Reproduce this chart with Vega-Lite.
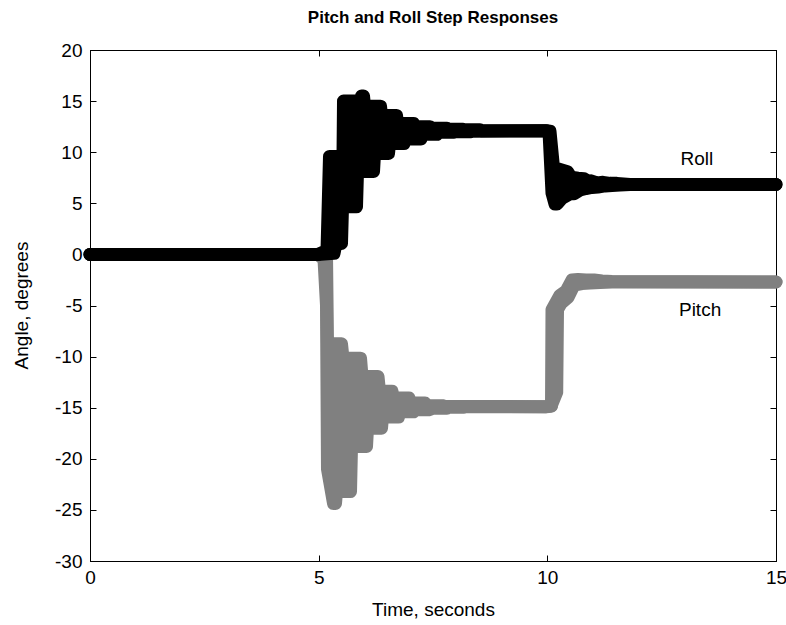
{
  "$schema": "https://vega.github.io/schema/vega-lite/v6.json",
  "width": 686,
  "height": 511,
  "autosize": {"type": "none"},
  "padding": {"left": 90, "top": 50, "right": 10, "bottom": 64},
  "background": "white",
  "title": {"text": "Pitch and Roll Step Responses", "font": "Liberation Sans", "fontSize": 17, "fontWeight": "bold", "color": "black", "anchor": "middle", "offset": 14},
  "config": {
    "view": {"stroke": "black", "strokeWidth": 1},
    "axis": {
      "grid": false,
      "zindex": 1,
      "domainColor": "black",
      "tickColor": "black",
      "tickSize": -6,
      "labelColor": "black",
      "labelFont": "Liberation Sans",
      "labelFontSize": 19,
      "titleColor": "black",
      "titleFont": "Liberation Sans",
      "titleFontSize": 19,
      "titleFontWeight": "normal",
      "labelFlush": false,
      "labelOverlap": false,
      "labelExpr": "datum.value + ''"
    }
  },
  "data": {
    "values": [
      {"s": "Pitch", "e": "lo", "t": 0, "v": 0},
      {"s": "Pitch", "e": "lo", "t": 4.9855, "v": 0},
      {"s": "Pitch", "e": "lo", "t": 5.1166, "v": -0.5},
      {"s": "Pitch", "e": "lo", "t": 5.1713, "v": -5},
      {"s": "Pitch", "e": "lo", "t": 5.1931, "v": -21},
      {"s": "Pitch", "e": "lo", "t": 5.3244, "v": -24.37},
      {"s": "Pitch", "e": "lo", "t": 5.3681, "v": -24.37},
      {"s": "Pitch", "e": "lo", "t": 5.39, "v": -23.2},
      {"s": "Pitch", "e": "lo", "t": 5.6961, "v": -23.2},
      {"s": "Pitch", "e": "lo", "t": 5.718, "v": -18.8},
      {"s": "Pitch", "e": "lo", "t": 6.046, "v": -18.8},
      {"s": "Pitch", "e": "lo", "t": 6.0678, "v": -17.0},
      {"s": "Pitch", "e": "lo", "t": 6.374, "v": -17.0},
      {"s": "Pitch", "e": "lo", "t": 6.3958, "v": -15.9},
      {"s": "Pitch", "e": "lo", "t": 6.7457, "v": -15.9},
      {"s": "Pitch", "e": "lo", "t": 6.7675, "v": -15.4},
      {"s": "Pitch", "e": "lo", "t": 7.0737, "v": -15.4},
      {"s": "Pitch", "e": "lo", "t": 7.0955, "v": -15.2},
      {"s": "Pitch", "e": "lo", "t": 7.4344, "v": -15.2},
      {"s": "Pitch", "e": "lo", "t": 7.4563, "v": -15.05},
      {"s": "Pitch", "e": "lo", "t": 7.8062, "v": -15.05},
      {"s": "Pitch", "e": "lo", "t": 7.828, "v": -14.95},
      {"s": "Pitch", "e": "lo", "t": 8.1779, "v": -14.95},
      {"s": "Pitch", "e": "lo", "t": 8.1997, "v": -14.9},
      {"s": "Pitch", "e": "lo", "t": 9.9709, "v": -14.9},
      {"s": "Pitch", "e": "lo", "t": 10.0802, "v": -14.85},
      {"s": "Pitch", "e": "lo", "t": 10.2049, "v": -13.5},
      {"s": "Pitch", "e": "lo", "t": 10.2224, "v": -5.4},
      {"s": "Pitch", "e": "lo", "t": 10.299, "v": -4.8},
      {"s": "Pitch", "e": "lo", "t": 10.452, "v": -4.2},
      {"s": "Pitch", "e": "lo", "t": 10.5832, "v": -3.0},
      {"s": "Pitch", "e": "lo", "t": 10.7581, "v": -2.85},
      {"s": "Pitch", "e": "lo", "t": 10.933, "v": -2.8},
      {"s": "Pitch", "e": "lo", "t": 11.1517, "v": -2.75},
      {"s": "Pitch", "e": "lo", "t": 11.4141, "v": -2.7},
      {"s": "Pitch", "e": "lo", "t": 15, "v": -2.7},
      {"s": "Pitch", "e": "hi", "t": 0, "v": 0},
      {"s": "Pitch", "e": "hi", "t": 5.1713, "v": 0},
      {"s": "Pitch", "e": "hi", "t": 5.1931, "v": -8.75},
      {"s": "Pitch", "e": "hi", "t": 5.4993, "v": -8.75},
      {"s": "Pitch", "e": "hi", "t": 5.5321, "v": -10.15},
      {"s": "Pitch", "e": "hi", "t": 5.9148, "v": -10.15},
      {"s": "Pitch", "e": "hi", "t": 5.9476, "v": -11.95},
      {"s": "Pitch", "e": "hi", "t": 6.2974, "v": -11.95},
      {"s": "Pitch", "e": "hi", "t": 6.3302, "v": -13.4},
      {"s": "Pitch", "e": "hi", "t": 6.6036, "v": -13.4},
      {"s": "Pitch", "e": "hi", "t": 6.6363, "v": -14.05},
      {"s": "Pitch", "e": "hi", "t": 6.9753, "v": -14.05},
      {"s": "Pitch", "e": "hi", "t": 7.0081, "v": -14.55},
      {"s": "Pitch", "e": "hi", "t": 7.3251, "v": -14.55},
      {"s": "Pitch", "e": "hi", "t": 7.3688, "v": -14.8},
      {"s": "Pitch", "e": "hi", "t": 7.6968, "v": -14.8},
      {"s": "Pitch", "e": "hi", "t": 7.7406, "v": -14.85},
      {"s": "Pitch", "e": "hi", "t": 9.9709, "v": -14.9},
      {"s": "Pitch", "e": "hi", "t": 10.0912, "v": -14.8},
      {"s": "Pitch", "e": "hi", "t": 10.1021, "v": -5.4},
      {"s": "Pitch", "e": "hi", "t": 10.2771, "v": -4.0},
      {"s": "Pitch", "e": "hi", "t": 10.4082, "v": -3.6},
      {"s": "Pitch", "e": "hi", "t": 10.5395, "v": -2.5},
      {"s": "Pitch", "e": "hi", "t": 10.6706, "v": -2.45},
      {"s": "Pitch", "e": "hi", "t": 10.8455, "v": -2.5},
      {"s": "Pitch", "e": "hi", "t": 11.0205, "v": -2.5},
      {"s": "Pitch", "e": "hi", "t": 11.1954, "v": -2.6},
      {"s": "Pitch", "e": "hi", "t": 11.4141, "v": -2.65},
      {"s": "Pitch", "e": "hi", "t": 15, "v": -2.7},
      {"s": "Roll", "e": "hi", "t": 0, "v": 0},
      {"s": "Roll", "e": "hi", "t": 4.9855, "v": 0},
      {"s": "Roll", "e": "hi", "t": 5.1822, "v": 0.4},
      {"s": "Roll", "e": "hi", "t": 5.2369, "v": 9.58},
      {"s": "Roll", "e": "hi", "t": 5.5321, "v": 9.58},
      {"s": "Roll", "e": "hi", "t": 5.5431, "v": 15.0},
      {"s": "Roll", "e": "hi", "t": 5.9257, "v": 15.0},
      {"s": "Roll", "e": "hi", "t": 5.9366, "v": 15.5},
      {"s": "Roll", "e": "hi", "t": 5.9804, "v": 15.5},
      {"s": "Roll", "e": "hi", "t": 6.0022, "v": 14.5},
      {"s": "Roll", "e": "hi", "t": 6.3521, "v": 14.5},
      {"s": "Roll", "e": "hi", "t": 6.374, "v": 13.6},
      {"s": "Roll", "e": "hi", "t": 6.7019, "v": 13.6},
      {"s": "Roll", "e": "hi", "t": 6.7238, "v": 12.8},
      {"s": "Roll", "e": "hi", "t": 7.0737, "v": 12.8},
      {"s": "Roll", "e": "hi", "t": 7.0955, "v": 12.5},
      {"s": "Roll", "e": "hi", "t": 7.4344, "v": 12.5},
      {"s": "Roll", "e": "hi", "t": 7.4563, "v": 12.35},
      {"s": "Roll", "e": "hi", "t": 7.8062, "v": 12.35},
      {"s": "Roll", "e": "hi", "t": 7.828, "v": 12.25},
      {"s": "Roll", "e": "hi", "t": 8.156, "v": 12.25},
      {"s": "Roll", "e": "hi", "t": 8.1779, "v": 12.2},
      {"s": "Roll", "e": "hi", "t": 8.5277, "v": 12.2},
      {"s": "Roll", "e": "hi", "t": 8.5496, "v": 12.1},
      {"s": "Roll", "e": "hi", "t": 9.9709, "v": 12.1},
      {"s": "Roll", "e": "hi", "t": 10.0584, "v": 12.05},
      {"s": "Roll", "e": "hi", "t": 10.1349, "v": 8.5},
      {"s": "Roll", "e": "hi", "t": 10.441, "v": 8.1},
      {"s": "Roll", "e": "hi", "t": 10.5176, "v": 7.55},
      {"s": "Roll", "e": "hi", "t": 10.6706, "v": 7.45},
      {"s": "Roll", "e": "hi", "t": 10.8018, "v": 7.4},
      {"s": "Roll", "e": "hi", "t": 10.8892, "v": 7.15},
      {"s": "Roll", "e": "hi", "t": 10.9549, "v": 7.2},
      {"s": "Roll", "e": "hi", "t": 11.0861, "v": 7.0},
      {"s": "Roll", "e": "hi", "t": 11.2172, "v": 7.05},
      {"s": "Roll", "e": "hi", "t": 11.3703, "v": 6.95},
      {"s": "Roll", "e": "hi", "t": 11.5234, "v": 6.95},
      {"s": "Roll", "e": "hi", "t": 11.8077, "v": 6.85},
      {"s": "Roll", "e": "hi", "t": 15, "v": 6.85},
      {"s": "Roll", "e": "lo", "t": 0, "v": 0},
      {"s": "Roll", "e": "lo", "t": 4.9855, "v": 0},
      {"s": "Roll", "e": "lo", "t": 5.3353, "v": 0.1},
      {"s": "Roll", "e": "lo", "t": 5.379, "v": 1.07},
      {"s": "Roll", "e": "lo", "t": 5.4993, "v": 1.07},
      {"s": "Roll", "e": "lo", "t": 5.5212, "v": 4.66},
      {"s": "Roll", "e": "lo", "t": 5.8273, "v": 4.66},
      {"s": "Roll", "e": "lo", "t": 5.8492, "v": 8.1},
      {"s": "Roll", "e": "lo", "t": 6.199, "v": 8.1},
      {"s": "Roll", "e": "lo", "t": 6.2209, "v": 9.87},
      {"s": "Roll", "e": "lo", "t": 6.527, "v": 9.87},
      {"s": "Roll", "e": "lo", "t": 6.5489, "v": 10.85},
      {"s": "Roll", "e": "lo", "t": 6.8659, "v": 10.85},
      {"s": "Roll", "e": "lo", "t": 6.8878, "v": 11.3},
      {"s": "Roll", "e": "lo", "t": 7.2377, "v": 11.3},
      {"s": "Roll", "e": "lo", "t": 7.2595, "v": 11.75},
      {"s": "Roll", "e": "lo", "t": 7.5875, "v": 11.75},
      {"s": "Roll", "e": "lo", "t": 7.6094, "v": 11.95},
      {"s": "Roll", "e": "lo", "t": 7.9592, "v": 11.95},
      {"s": "Roll", "e": "lo", "t": 7.9811, "v": 12.0},
      {"s": "Roll", "e": "lo", "t": 8.331, "v": 12.0},
      {"s": "Roll", "e": "lo", "t": 8.3528, "v": 12.05},
      {"s": "Roll", "e": "lo", "t": 9.9709, "v": 12.1},
      {"s": "Roll", "e": "lo", "t": 10.0365, "v": 12.0},
      {"s": "Roll", "e": "lo", "t": 10.1021, "v": 6.0},
      {"s": "Roll", "e": "lo", "t": 10.1677, "v": 4.93},
      {"s": "Roll", "e": "lo", "t": 10.2115, "v": 4.93},
      {"s": "Roll", "e": "lo", "t": 10.3207, "v": 5.5},
      {"s": "Roll", "e": "lo", "t": 10.4957, "v": 5.93},
      {"s": "Roll", "e": "lo", "t": 10.5832, "v": 5.93},
      {"s": "Roll", "e": "lo", "t": 10.7143, "v": 6.3},
      {"s": "Roll", "e": "lo", "t": 10.8455, "v": 6.45},
      {"s": "Roll", "e": "lo", "t": 10.9767, "v": 6.55},
      {"s": "Roll", "e": "lo", "t": 11.1079, "v": 6.6},
      {"s": "Roll", "e": "lo", "t": 11.261, "v": 6.7},
      {"s": "Roll", "e": "lo", "t": 11.4141, "v": 6.75},
      {"s": "Roll", "e": "lo", "t": 11.589, "v": 6.8},
      {"s": "Roll", "e": "lo", "t": 11.8077, "v": 6.85},
      {"s": "Roll", "e": "lo", "t": 15, "v": 6.85}
    ]
  },
  "layer": [
    {
      "transform": [{"filter": "datum.s === 'Pitch' && datum.e === 'lo'"}],
      "mark": {"type": "area", "color": "#808080", "opacity": 1},
      "encoding": {
        "x": {"field": "t", "type": "quantitative", "scale": {"domain": [0, 15], "nice": false},
              "axis": {"orient": "bottom", "values": [0, 5, 10, 15], "labelPadding": 13, "title": "Time, seconds", "titleX": 343, "titleY": 54, "titleBaseline": "alphabetic"}},
        "y": {"field": "v", "type": "quantitative", "scale": {"domain": [-30, 20], "nice": false},
              "axis": {"orient": "left", "values": [-30, -25, -20, -15, -10, -5, 0, 5, 10, 15, 20], "labelPadding": 14, "title": "Angle, degrees", "titleX": -63, "titleY": 255, "titleBaseline": "alphabetic"}},
        "y2": {"datum": 0}
      }
    },
    {
      "transform": [{"filter": "datum.s === 'Pitch' && datum.e === 'hi'"}],
      "mark": {"type": "area", "color": "#ffffff", "opacity": 1},
      "encoding": {
        "x": {"field": "t", "type": "quantitative", "axis": null},
        "y": {"field": "v", "type": "quantitative", "axis": null},
        "y2": {"datum": 0.4}
      }
    },
    {
      "transform": [{"filter": "datum.s === 'Pitch'"}],
      "mark": {"type": "line", "color": "#808080", "strokeWidth": 13, "strokeCap": "round", "strokeJoin": "round"},
      "encoding": {
        "x": {"field": "t", "type": "quantitative", "axis": null},
        "y": {"field": "v", "type": "quantitative", "axis": null},
        "detail": {"field": "e"}
      }
    },
    {
      "transform": [{"filter": "datum.s === 'Roll' && datum.e === 'hi'"}],
      "mark": {"type": "area", "color": "#000000", "opacity": 1},
      "encoding": {
        "x": {"field": "t", "type": "quantitative",
              "axis": {"orient": "top", "values": [0, 5, 10, 15], "labels": false, "title": null}},
        "y": {"field": "v", "type": "quantitative",
              "axis": {"orient": "right", "values": [-30, -25, -20, -15, -10, -5, 0, 5, 10, 15, 20], "labels": false, "title": null}},
        "y2": {"datum": 0}
      }
    },
    {
      "transform": [{"filter": "datum.s === 'Roll' && datum.e === 'lo'"}],
      "mark": {"type": "area", "color": "#ffffff", "opacity": 1},
      "encoding": {
        "x": {"field": "t", "type": "quantitative", "axis": null},
        "y": {"field": "v", "type": "quantitative", "axis": null},
        "y2": {"datum": -0.4}
      }
    },
    {
      "transform": [{"filter": "datum.s === 'Roll'"}],
      "mark": {"type": "line", "color": "#000000", "strokeWidth": 13, "strokeCap": "round", "strokeJoin": "round"},
      "encoding": {
        "x": {"field": "t", "type": "quantitative", "axis": null},
        "y": {"field": "v", "type": "quantitative", "axis": null},
        "detail": {"field": "e"}
      }
    },
    {
      "data": {"values": [
        {"label": "Roll", "t": 13.27, "v": 9.3},
        {"label": "Pitch", "t": 13.34, "v": -5.45}
      ]},
      "mark": {"type": "text", "font": "Liberation Sans", "fontSize": 19, "color": "black", "align": "center", "baseline": "middle"},
      "encoding": {
        "x": {"field": "t", "type": "quantitative", "axis": null},
        "y": {"field": "v", "type": "quantitative", "axis": null},
        "text": {"field": "label"}
      }
    }
  ],
  "resolve": {"axis": {"x": "independent", "y": "independent"}}
}
